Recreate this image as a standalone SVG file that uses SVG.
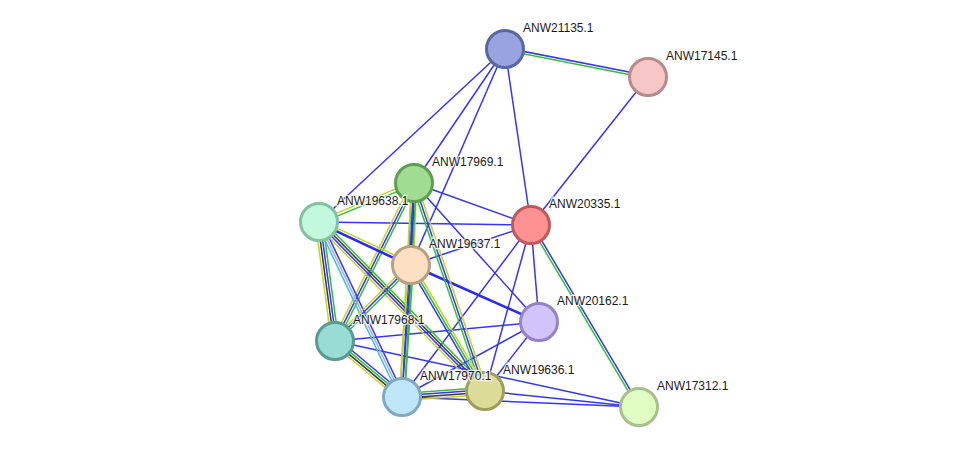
<svg xmlns="http://www.w3.org/2000/svg" width="976" height="453" viewBox="0 0 976 453">
<style>
line{stroke-width:1.5;fill:none}
.b{stroke:#3535f5}
.bt{stroke:#2a2af0;stroke-width:2.6}
.g{stroke:#33c033}
.y{stroke:#c4d22e}
.k{stroke:#3a3a3a}
.l{stroke:#a8a8f4}
.c{stroke:#38c0dc}
.n circle{stroke-width:3}
.n text{font-family:"Liberation Sans",Arial,sans-serif;font-size:12px;fill:#1a1a1a;paint-order:stroke;stroke:#fff;stroke-width:2.5;stroke-opacity:0.8}
</style>
<rect width="976" height="453" fill="#fff"/>
<g id="connectors">
<line class="b" x1="505" y1="49" x2="414" y2="183"/>
<line class="b" x1="505" y1="49" x2="319" y2="222"/>
<line class="b" x1="505" y1="49" x2="531" y2="225"/>
<line class="b" x1="505" y1="49" x2="411" y2="265"/>
<line class="b" x1="648" y1="77" x2="531" y2="225"/>
<line class="b" x1="414" y1="183" x2="531" y2="225"/>
<line class="b" x1="414" y1="183" x2="539" y2="322"/>
<line class="b" x1="319" y1="222" x2="531" y2="225"/>
<line class="b" x1="411" y1="265" x2="531" y2="225"/>
<line class="b" x1="531" y1="225" x2="539" y2="322"/>
<line class="b" x1="531" y1="225" x2="402" y2="397"/>
<line class="b" x1="531" y1="225" x2="485" y2="391"/>
<line class="bt" x1="411" y1="265" x2="539" y2="322"/>
<line class="b" x1="539" y1="322" x2="335" y2="341"/>
<line class="b" x1="539" y1="322" x2="402" y2="397"/>
<line class="b" x1="539" y1="322" x2="485" y2="391"/>
<line class="b" x1="335" y1="341" x2="639" y2="407"/>
<line class="b" x1="402" y1="397" x2="639" y2="407"/>
<line class="b" x1="485" y1="391" x2="639" y2="407"/>
<g transform="translate(505 49) rotate(11.08)"><line class="b" x1="0" y1="-1.2" x2="145.7" y2="-1.2"/><line class="g" x1="0" y1="1.2" x2="145.7" y2="1.2"/></g>
<g transform="translate(319 222) rotate(-22.32)"><line class="y" x1="0" y1="-1.5" x2="102.7" y2="-1.5"/><line class="g" x1="0" y1="1.5" x2="102.7" y2="1.5"/></g>
<g transform="translate(414 183) rotate(92.1)"><line class="g" x1="0" y1="2.6" x2="82" y2="2.6"/><line class="bt" x1="0" y1="0" x2="82" y2="0"/><line class="y" x1="0" y1="-2.6" x2="82" y2="-2.6"/></g>
<g transform="translate(414 183) rotate(116.57)"><line class="g" x1="0" y1="-2.4" x2="176.6" y2="-2.4"/><line class="b" x1="0" y1="0" x2="176.6" y2="0"/><line class="y" x1="0" y1="2.4" x2="176.6" y2="2.4"/></g>
<g transform="translate(414 183) rotate(93.21)"><line class="g" x1="0" y1="-2.4" x2="214.3" y2="-2.4"/><line class="b" x1="0" y1="0" x2="214.3" y2="0"/><line class="y" x1="0" y1="2.4" x2="214.3" y2="2.4"/></g>
<g transform="translate(414 183) rotate(71.15)"><line class="y" x1="0" y1="-2.4" x2="219.8" y2="-2.4"/><line class="b" x1="0" y1="0" x2="219.8" y2="0"/><line class="g" x1="0" y1="2.4" x2="219.8" y2="2.4"/></g>
<g transform="translate(319 222) rotate(25.05)"><line class="y" x1="0" y1="-2" x2="101.5" y2="-2"/><line class="bt" x1="0" y1="1" x2="101.5" y2="1"/></g>
<g transform="translate(319 222) rotate(82.34)"><line class="g" x1="0" y1="-3.6" x2="120" y2="-3.6"/><line class="b" x1="0" y1="-1.2" x2="120" y2="-1.2"/><line class="k" x1="0" y1="1.2" x2="120" y2="1.2"/><line class="y" x1="0" y1="3.6" x2="120" y2="3.6"/></g>
<g transform="translate(319 222) rotate(64.63)"><line class="b" x1="0" y1="-2.4" x2="193.7" y2="-2.4"/><line class="l" x1="0" y1="0" x2="193.7" y2="0"/><line class="c" x1="0" y1="2.4" x2="193.7" y2="2.4"/></g>
<g transform="translate(319 222) rotate(45.51)"><line class="g" x1="0" y1="-3.6" x2="236.9" y2="-3.6"/><line class="k" x1="0" y1="-1.2" x2="236.9" y2="-1.2"/><line class="b" x1="0" y1="1.2" x2="236.9" y2="1.2"/><line class="y" x1="0" y1="3.6" x2="236.9" y2="3.6"/></g>
<g transform="translate(335 341) rotate(39.89)"><line class="b" x1="0" y1="-3.6" x2="87.3" y2="-3.6"/><line class="g" x1="0" y1="-1.2" x2="87.3" y2="-1.2"/><line class="k" x1="0" y1="1.2" x2="87.3" y2="1.2"/><line class="y" x1="0" y1="3.6" x2="87.3" y2="3.6"/></g>
<g transform="translate(402 397) rotate(-4.13)"><line class="g" x1="0" y1="-3.6" x2="83.2" y2="-3.6"/><line class="b" x1="0" y1="-1.2" x2="83.2" y2="-1.2"/><line class="k" x1="0" y1="1.2" x2="83.2" y2="1.2"/><line class="y" x1="0" y1="3.6" x2="83.2" y2="3.6"/></g>
<g transform="translate(411 265) rotate(135)"><line class="g" x1="0" y1="-2.4" x2="107.5" y2="-2.4"/><line class="b" x1="0" y1="0" x2="107.5" y2="0"/><line class="y" x1="0" y1="2.4" x2="107.5" y2="2.4"/></g>
<g transform="translate(411 265) rotate(93.9)"><line class="g" x1="0" y1="-2.4" x2="132.3" y2="-2.4"/><line class="b" x1="0" y1="0" x2="132.3" y2="0"/><line class="y" x1="0" y1="2.4" x2="132.3" y2="2.4"/></g>
<g transform="translate(411 265) rotate(59.57)"><line class="y" x1="0" y1="-2.4" x2="146.1" y2="-2.4"/><line class="g" x1="0" y1="0" x2="146.1" y2="0"/><line class="b" x1="0" y1="2.4" x2="146.1" y2="2.4"/></g>
<g transform="translate(531 225) rotate(59.31)"><line class="b" x1="0" y1="-1.2" x2="211.6" y2="-1.2"/><line class="g" x1="0" y1="1.2" x2="211.6" y2="1.2"/></g>
</g>
<g id="ANW21135.1" class="n"><circle cx="505" cy="49" r="18.5" fill="#98a3e0" stroke="#5b67a2"/><text x="523" y="32">ANW21135.1</text></g>
<g id="ANW17145.1" class="n"><circle cx="648" cy="77" r="18.5" fill="#f7c7c8" stroke="#b88a8a"/><text x="666" y="60">ANW17145.1</text></g>
<g id="ANW17969.1" class="n"><circle cx="414" cy="183" r="18.5" fill="#a0dc92" stroke="#5e9e52"/><text x="432" y="166">ANW17969.1</text></g>
<g id="ANW19638.1" class="n"><circle cx="319" cy="222" r="18.5" fill="#c2f8dc" stroke="#84c0a2"/><text x="337" y="205">ANW19638.1</text></g>
<g id="ANW20335.1" class="n"><circle cx="531" cy="225" r="18.5" fill="#fe9191" stroke="#c05a5a"/><text x="549" y="208">ANW20335.1</text></g>
<g id="ANW19637.1" class="n"><circle cx="411" cy="265" r="18.5" fill="#fde0c2" stroke="#b8a082"/><text x="429" y="248">ANW19637.1</text></g>
<g id="ANW20162.1" class="n"><circle cx="539" cy="322" r="18.5" fill="#d2c4fa" stroke="#9484c4"/><text x="557" y="305">ANW20162.1</text></g>
<g id="ANW17968.1" class="n"><circle cx="335" cy="341" r="18.5" fill="#98dcd4" stroke="#5a9a92"/><text x="353" y="324">ANW17968.1</text></g>
<g id="ANW19636.1" class="n"><circle cx="485" cy="391" r="18.5" fill="#dcdb98" stroke="#a09e5a"/><text x="503" y="374">ANW19636.1</text></g>
<g id="ANW17970.1" class="n"><circle cx="402" cy="397" r="18.5" fill="#c0e6fa" stroke="#80a8c2"/><text x="420" y="380">ANW17970.1</text></g>
<g id="ANW17312.1" class="n"><circle cx="639" cy="407" r="18.5" fill="#e0fcc2" stroke="#a8c08a"/><text x="657" y="390">ANW17312.1</text></g>
</svg>
